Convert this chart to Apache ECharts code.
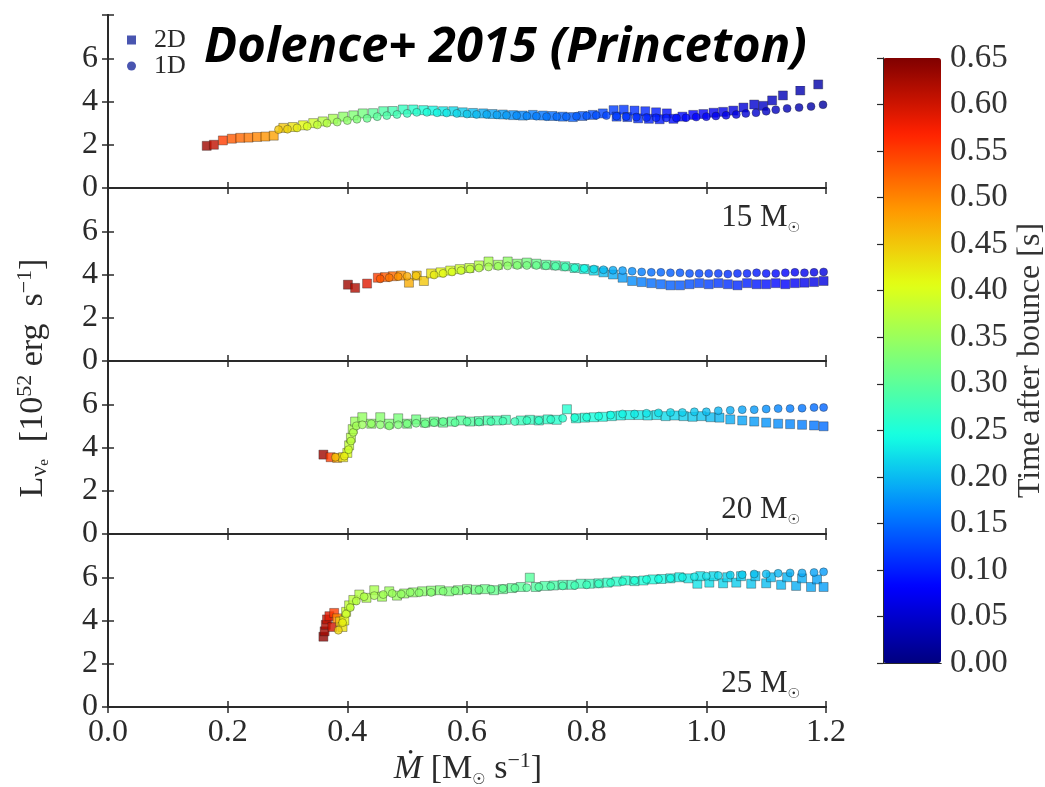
<!DOCTYPE html>
<html>
<head>
<meta charset="utf-8">
<script src="https://cdn.jsdelivr.net/npm/echarts@6/dist/echarts.min.js"></script>
<style>
html,body{margin:0;padding:0;background:#fff;}
#chart{width:1045px;height:787px;}
</style>
</head>
<body>
<div id="chart"></div>
<script>
// ---- tick labels ----
const xTickLabels = ['0.0','0.2','0.4','0.6','0.8','1.0','1.2'];
const yTickLabels = ['0','2','4','6',''];
const cbTickLabels = ['0.00','0.05','0.10','0.15','0.20','0.25','0.30','0.35','0.40','0.45','0.50','0.55','0.60','0.65'];
const panelMasses = ['', '15', '20', '25'];

// ---- data: [Mdot (Msun/s), L_nue (1e52 erg/s), time after bounce (s)] ----
const panel1_2D = [[0.165,1.95,0.63],[0.177,2.00,0.61],[0.192,2.20,0.55],[0.207,2.28,0.53],[0.221,2.32,0.52],[0.235,2.33,0.51],[0.249,2.36,0.50],[0.263,2.38,0.49],[0.277,2.42,0.48],[0.293,2.78,0.45],[0.309,2.82,0.43],[0.326,2.90,0.41],[0.343,3.00,0.39],[0.359,3.08,0.37],[0.376,3.20,0.36],[0.393,3.30,0.34],[0.410,3.36,0.33],[0.426,3.45,0.32],[0.443,3.46,0.30],[0.460,3.55,0.29],[0.476,3.56,0.28],[0.493,3.63,0.27],[0.510,3.63,0.26],[0.527,3.60,0.25],[0.543,3.58,0.24],[0.560,3.55,0.23],[0.577,3.55,0.22],[0.593,3.50,0.21],[0.610,3.47,0.20],[0.627,3.45,0.19],[0.643,3.42,0.185],[0.660,3.40,0.18],[0.677,3.37,0.17],[0.693,3.35,0.165],[0.710,3.38,0.16],[0.727,3.35,0.155],[0.743,3.33,0.15],[0.760,3.30,0.145],[0.777,3.28,0.14],[0.793,3.33,0.135],[0.810,3.38,0.13],[0.827,3.45,0.125],[0.845,3.60,0.12],[0.850,3.30,0.118],[0.862,3.62,0.115],[0.868,3.28,0.112],[0.880,3.58,0.11],[0.886,3.22,0.108],[0.898,3.55,0.105],[0.904,3.20,0.10],[0.916,3.50,0.098],[0.922,3.18,0.095],[0.934,3.45,0.09],[0.945,3.20,0.088],[0.960,3.30,0.085],[0.978,3.38,0.08],[0.995,3.42,0.075],[1.012,3.48,0.07],[1.028,3.52,0.065],[1.045,3.58,0.06],[1.062,3.72,0.055],[1.080,3.86,0.05],[1.095,3.80,0.045],[1.110,4.05,0.04],[1.128,4.28,0.035],[1.157,4.51,0.03],[1.187,4.79,0.025]];
const panel1_1D = [[0.285,2.70,0.45],[0.300,2.72,0.44],[0.316,2.78,0.42],[0.333,2.85,0.40],[0.350,2.92,0.38],[0.366,3.00,0.37],[0.383,3.05,0.35],[0.400,3.12,0.34],[0.416,3.18,0.33],[0.433,3.22,0.31],[0.450,3.30,0.30],[0.466,3.35,0.29],[0.483,3.40,0.28],[0.500,3.45,0.27],[0.516,3.50,0.26],[0.533,3.50,0.25],[0.550,3.48,0.24],[0.566,3.47,0.23],[0.583,3.45,0.22],[0.600,3.42,0.21],[0.616,3.40,0.20],[0.633,3.40,0.19],[0.650,3.38,0.185],[0.666,3.36,0.18],[0.683,3.35,0.17],[0.700,3.33,0.165],[0.716,3.32,0.16],[0.733,3.30,0.155],[0.750,3.30,0.15],[0.766,3.30,0.145],[0.783,3.32,0.14],[0.800,3.34,0.135],[0.816,3.36,0.13],[0.833,3.35,0.125],[0.850,3.32,0.12],[0.866,3.30,0.115],[0.883,3.28,0.11],[0.900,3.26,0.105],[0.916,3.25,0.10],[0.933,3.24,0.095],[0.950,3.24,0.09],[0.966,3.25,0.085],[0.983,3.28,0.08],[1.000,3.30,0.075],[1.016,3.33,0.07],[1.033,3.36,0.065],[1.050,3.40,0.06],[1.066,3.45,0.055],[1.083,3.48,0.05],[1.100,3.55,0.045],[1.116,3.62,0.04],[1.135,3.68,0.035],[1.155,3.72,0.03],[1.175,3.77,0.025],[1.195,3.85,0.02]];

const panel2_2D = [[0.401,3.53,0.63],[0.413,3.38,0.62],[0.433,3.58,0.59],[0.451,3.85,0.55],[0.463,3.88,0.53],[0.476,3.92,0.52],[0.490,3.95,0.49],[0.503,3.62,0.47],[0.516,3.95,0.46],[0.528,3.70,0.45],[0.540,4.05,0.43],[0.556,4.10,0.41],[0.572,4.18,0.40],[0.588,4.25,0.39],[0.604,4.30,0.38],[0.620,4.42,0.37],[0.636,4.60,0.36],[0.652,4.45,0.35],[0.668,4.60,0.34],[0.684,4.50,0.33],[0.700,4.55,0.32],[0.716,4.50,0.31],[0.732,4.45,0.30],[0.748,4.42,0.29],[0.764,4.38,0.28],[0.780,4.30,0.26],[0.796,4.25,0.24],[0.812,4.18,0.22],[0.828,4.10,0.20],[0.844,4.00,0.19],[0.860,3.85,0.18],[0.876,3.70,0.17],[0.892,3.65,0.16],[0.908,3.60,0.15],[0.924,3.55,0.145],[0.940,3.50,0.14],[0.956,3.50,0.135],[0.972,3.55,0.13],[0.988,3.60,0.125],[1.004,3.55,0.12],[1.020,3.60,0.115],[1.036,3.55,0.11],[1.052,3.50,0.105],[1.068,3.60,0.10],[1.084,3.55,0.095],[1.100,3.55,0.09],[1.116,3.60,0.085],[1.132,3.55,0.08],[1.148,3.60,0.075],[1.164,3.62,0.07],[1.180,3.65,0.065],[1.196,3.70,0.06]];
const panel2_1D = [[0.455,3.80,0.53],[0.470,3.85,0.51],[0.485,3.90,0.49],[0.500,3.92,0.47],[0.515,3.95,0.45],[0.545,3.98,0.42],[0.560,4.05,0.41],[0.575,4.12,0.40],[0.590,4.18,0.39],[0.605,4.25,0.38],[0.620,4.30,0.37],[0.636,4.35,0.36],[0.652,4.38,0.35],[0.668,4.40,0.34],[0.684,4.42,0.33],[0.700,4.42,0.32],[0.716,4.42,0.31],[0.732,4.40,0.30],[0.748,4.38,0.29],[0.764,4.35,0.28],[0.780,4.30,0.26],[0.796,4.28,0.24],[0.812,4.25,0.22],[0.828,4.22,0.20],[0.844,4.20,0.19],[0.860,4.18,0.18],[0.876,4.15,0.17],[0.892,4.12,0.16],[0.908,4.10,0.15],[0.924,4.10,0.145],[0.940,4.08,0.14],[0.956,4.08,0.135],[0.972,4.05,0.13],[0.988,4.05,0.125],[1.004,4.05,0.12],[1.020,4.05,0.115],[1.036,4.02,0.11],[1.052,4.05,0.105],[1.068,4.05,0.10],[1.084,4.08,0.095],[1.100,4.05,0.09],[1.116,4.05,0.085],[1.132,4.08,0.08],[1.148,4.10,0.075],[1.164,4.08,0.07],[1.180,4.10,0.065],[1.196,4.12,0.06]];

const panel3_2D = [[0.360,3.67,0.63],[0.372,3.55,0.55],[0.383,3.52,0.48],[0.393,3.55,0.43],[0.400,3.75,0.40],[0.403,4.10,0.38],[0.406,4.45,0.37],[0.409,4.85,0.36],[0.413,5.20,0.35],[0.425,5.40,0.345],[0.440,5.10,0.34],[0.455,5.40,0.335],[0.470,5.10,0.33],[0.485,5.35,0.325],[0.500,5.10,0.32],[0.515,5.30,0.317],[0.530,5.15,0.313],[0.545,5.20,0.31],[0.560,5.15,0.306],[0.575,5.20,0.302],[0.590,5.25,0.298],[0.605,5.20,0.294],[0.620,5.22,0.29],[0.635,5.25,0.287],[0.650,5.25,0.283],[0.665,5.28,0.28],[0.690,5.25,0.274],[0.705,5.28,0.27],[0.720,5.25,0.267],[0.735,5.30,0.264],[0.750,5.28,0.26],[0.767,5.77,0.257],[0.782,5.35,0.254],[0.797,5.38,0.25],[0.812,5.40,0.247],[0.827,5.42,0.244],[0.842,5.45,0.24],[0.857,5.48,0.237],[0.872,5.50,0.234],[0.887,5.50,0.23],[0.902,5.48,0.227],[0.917,5.50,0.224],[0.932,5.45,0.22],[0.947,5.48,0.217],[0.962,5.45,0.214],[0.977,5.42,0.21],[0.992,5.45,0.206],[1.007,5.40,0.20],[1.022,5.38,0.196],[1.040,5.30,0.19],[1.060,5.25,0.185],[1.080,5.20,0.18],[1.100,5.15,0.175],[1.120,5.10,0.17],[1.140,5.08,0.165],[1.160,5.05,0.16],[1.180,5.02,0.155],[1.196,4.98,0.15]];
const panel3_1D = [[0.380,3.55,0.46],[0.395,3.60,0.42],[0.402,3.90,0.39],[0.406,4.30,0.375],[0.410,4.70,0.365],[0.415,5.00,0.355],[0.425,5.05,0.35],[0.440,5.10,0.343],[0.455,5.05,0.337],[0.470,5.00,0.332],[0.485,5.05,0.327],[0.500,5.10,0.322],[0.515,5.12,0.318],[0.530,5.10,0.314],[0.545,5.15,0.31],[0.560,5.20,0.306],[0.580,5.15,0.30],[0.600,5.20,0.295],[0.620,5.18,0.29],[0.640,5.20,0.285],[0.660,5.22,0.28],[0.680,5.20,0.275],[0.700,5.25,0.27],[0.720,5.25,0.266],[0.740,5.30,0.262],[0.760,5.35,0.258],[0.780,5.38,0.254],[0.800,5.40,0.25],[0.820,5.45,0.246],[0.840,5.50,0.242],[0.860,5.55,0.237],[0.880,5.55,0.232],[0.900,5.58,0.228],[0.920,5.60,0.224],[0.940,5.62,0.219],[0.960,5.62,0.214],[0.980,5.65,0.208],[1.000,5.65,0.202],[1.020,5.70,0.196],[1.040,5.72,0.19],[1.060,5.75,0.184],[1.080,5.75,0.178],[1.100,5.78,0.172],[1.120,5.80,0.166],[1.140,5.80,0.16],[1.160,5.82,0.155],[1.180,5.85,0.15],[1.196,5.85,0.145]];

const panel4_2D = [[0.360,3.25,0.64],[0.362,3.50,0.63],[0.364,3.80,0.62],[0.366,4.05,0.61],[0.370,4.20,0.59],[0.375,3.70,0.60],[0.378,4.35,0.55],[0.383,4.10,0.50],[0.388,3.95,0.45],[0.392,3.70,0.43],[0.395,4.00,0.41],[0.398,4.40,0.39],[0.403,4.70,0.38],[0.410,4.95,0.375],[0.420,5.20,0.37],[0.432,5.05,0.365],[0.445,5.40,0.36],[0.458,5.10,0.355],[0.470,5.35,0.35],[0.483,5.15,0.347],[0.495,5.25,0.344],[0.510,5.30,0.34],[0.525,5.35,0.337],[0.540,5.38,0.334],[0.555,5.40,0.33],[0.570,5.35,0.327],[0.585,5.40,0.324],[0.600,5.45,0.32],[0.615,5.42,0.317],[0.630,5.45,0.314],[0.645,5.40,0.31],[0.660,5.45,0.307],[0.675,5.50,0.304],[0.690,5.55,0.30],[0.705,5.98,0.297],[0.715,5.55,0.294],[0.730,5.60,0.29],[0.745,5.62,0.287],[0.760,5.65,0.284],[0.775,5.65,0.28],[0.790,5.70,0.277],[0.805,5.70,0.274],[0.820,5.72,0.27],[0.835,5.75,0.266],[0.850,5.80,0.262],[0.865,5.85,0.258],[0.880,5.82,0.254],[0.895,5.85,0.25],[0.910,5.90,0.246],[0.925,5.92,0.242],[0.940,5.95,0.238],[0.955,6.00,0.234],[0.970,5.95,0.23],[0.985,5.70,0.227],[0.990,6.05,0.225],[1.005,5.75,0.222],[1.012,6.05,0.22],[1.028,5.72,0.217],[1.035,6.00,0.215],[1.050,5.75,0.212],[1.058,6.05,0.21],[1.075,5.70,0.207],[1.082,6.05,0.205],[1.100,5.72,0.202],[1.108,6.00,0.20],[1.125,5.65,0.197],[1.135,6.00,0.195],[1.150,5.60,0.192],[1.160,5.95,0.19],[1.175,5.55,0.187],[1.185,5.90,0.185],[1.196,5.55,0.182]];
const panel4_1D = [[0.385,3.55,0.44],[0.392,3.90,0.42],[0.398,4.30,0.39],[0.405,4.60,0.38],[0.415,4.90,0.372],[0.428,5.10,0.366],[0.445,5.15,0.36],[0.460,5.20,0.355],[0.475,5.25,0.35],[0.490,5.22,0.345],[0.505,5.30,0.341],[0.520,5.28,0.337],[0.540,5.30,0.333],[0.560,5.35,0.329],[0.580,5.38,0.325],[0.600,5.40,0.32],[0.620,5.42,0.316],[0.640,5.45,0.311],[0.660,5.48,0.307],[0.680,5.50,0.302],[0.700,5.52,0.297],[0.720,5.55,0.293],[0.740,5.58,0.288],[0.760,5.60,0.284],[0.780,5.62,0.279],[0.800,5.65,0.274],[0.820,5.70,0.27],[0.840,5.75,0.265],[0.860,5.80,0.26],[0.880,5.85,0.254],[0.900,5.90,0.249],[0.920,5.92,0.244],[0.940,5.95,0.239],[0.960,6.00,0.234],[0.980,6.02,0.229],[1.000,6.05,0.224],[1.020,6.08,0.219],[1.040,6.10,0.214],[1.060,6.12,0.21],[1.080,6.15,0.205],[1.100,6.15,0.20],[1.120,6.18,0.196],[1.140,6.20,0.192],[1.160,6.20,0.188],[1.180,6.22,0.184],[1.196,6.25,0.18]];

const panels2D = [panel1_2D, panel2_2D, panel3_2D, panel4_2D];
const panels1D = [panel1_1D, panel2_1D, panel3_1D, panel4_1D];

// jet colormap samples
const jet = ['#000080','#0000ff','#0080ff','#15ffe2','#7bff7b','#e2ff15','#ff9700','#ff2100','#800000'];

const SERIF = '"Liberation Serif","DejaVu Serif",serif';
const AX = '#2a2a2a';
const GL = 108, GW = 718, GT = 15, GH = 173;

const grids = [], xAxes = [], yAxes = [], series = [];
for (let i = 0; i < 4; i++) {
  grids.push({left: GL, width: GW, top: GT + GH * i, height: GH, outerBoundsMode: 'none'});
  const axBase = {
    gridIndex: i, type: 'value', splitLine: {show: false},
    axisLine: {show: true, lineStyle: {color: AX, width: 2}},
    axisTick: {show: true, inside: true, length: 6, lineStyle: {color: AX, width: 1.5}}
  };
  xAxes.push(Object.assign({}, axBase, {
    position: 'bottom', min: 0, max: 1.2, interval: 0.2,
    axisLabel: {show: i === 3, fontFamily: SERIF, fontSize: 32, color: '#2a2a2a', margin: 10,
      showMinLabel: true, showMaxLabel: true,
      formatter: v => xTickLabels[Math.round(v / 0.2)]}
  }));
  xAxes.push(Object.assign({}, axBase, {
    position: 'top', min: 0, max: 1.2, interval: 0.2, axisLabel: {show: false}
  }));
  yAxes.push(Object.assign({}, axBase, {
    position: 'left', min: 0, max: 8, interval: 2,
    axisLabel: {show: true, fontFamily: SERIF, fontSize: 32, color: '#2a2a2a', margin: 10,
      showMinLabel: true, showMaxLabel: true,
      formatter: v => yTickLabels[Math.round(v / 2)]}
  }));
  yAxes.push(Object.assign({}, axBase, {
    position: 'right', min: 0, max: 8, interval: 2, axisLabel: {show: false}
  }));
  series.push({
    name: '2D', type: 'scatter', xAxisIndex: 2 * i, yAxisIndex: 2 * i,
    symbol: 'rect', symbolSize: 9, data: panels2D[i],
    itemStyle: {borderColor: 'rgba(30,30,30,0.55)', borderWidth: 0.8},
    emphasis: {disabled: true}
  });
  series.push({
    name: '1D', type: 'scatter', xAxisIndex: 2 * i, yAxisIndex: 2 * i,
    symbol: 'circle', symbolSize: 8, data: panels1D[i],
    itemStyle: {borderColor: 'rgba(30,30,30,0.55)', borderWidth: 0.8},
    emphasis: {disabled: true}
  });
}

// colorbar axis grid
const CB_L = 883, CB_T = 58, CB_W = 58, CB_H = 605;
grids.push({left: CB_L, top: CB_T, width: CB_W, height: CB_H, show: false, outerBoundsMode: 'none'});
xAxes.push({gridIndex: 4, type: 'value', min: 0, max: 1, position: 'bottom', z: 10,
  axisLine: {show: true, lineStyle: {color: AX, width: 1}}, axisTick: {show: false}, axisLabel: {show: false}, splitLine: {show: false}});
xAxes.push({gridIndex: 4, type: 'value', min: 0, max: 1, position: 'top', z: 10,
  axisLine: {show: true, lineStyle: {color: AX, width: 1}}, axisTick: {show: false}, axisLabel: {show: false}, splitLine: {show: false}});
yAxes.push({gridIndex: 4, type: 'value', position: 'left', min: 0, max: 0.65, interval: 0.05, z: 10,
  splitLine: {show: false}, axisLine: {show: true, lineStyle: {color: AX, width: 1}},
  axisTick: {show: false}, axisLabel: {show: false}});
yAxes.push({gridIndex: 4, type: 'value', position: 'right', min: 0, max: 0.65, interval: 0.05, z: 10,
  splitLine: {show: false}, axisLine: {show: true, lineStyle: {color: AX, width: 1}},
  axisTick: {show: true, inside: true, length: 6, lineStyle: {color: AX, width: 1.2}},
  axisLabel: {fontFamily: SERIF, fontSize: 33, color: '#333', margin: 9,
    showMinLabel: true, showMaxLabel: true,
    formatter: v => cbTickLabels[Math.round(v / 0.05)]},
  name: 'Time after bounce [s]', nameLocation: 'middle', nameRotate: 90, nameGap: 74,
  nameTextStyle: {fontFamily: SERIF, fontSize: 32, color: '#333'}
});

const graphics = [];
// title box and text
graphics.push({type: 'rect', z: 100, shape: {x: 197, y: 24, width: 608, height: 62}, style: {fill: '#fff'}});
graphics.push({type: 'text', z: 101, x: 204, y: 48, style: {
  text: 'Dolence+ 2015 (Princeton)', fontFamily: '"Open Sans","Noto Sans",sans-serif',
  fontSize: 49, fontWeight: 'bold', fontStyle: 'italic', fill: '#000',
  textAlign: 'left', textVerticalAlign: 'middle'}});
// panel mass labels
const massPos = [null, {x: 800, y: 218}, {x: 800, y: 510}, {x: 800, y: 684}];
for (let i = 1; i < 4; i++) {
  graphics.push({type: 'text', z: 101, x: massPos[i].x, y: massPos[i].y, style: {
    text: panelMasses[i] + ' M{s|☉}', fontFamily: SERIF, fontSize: 31, fill: '#2a2a2a',
    textAlign: 'right', textVerticalAlign: 'middle', lineHeight: 34,
    rich: {s: {fontFamily: '"DejaVu Sans",sans-serif', fontSize: 14, fill: '#2a2a2a', verticalAlign: 'bottom', lineHeight: 12}}
  }});
}
// y axis label
graphics.push({type: 'text', z: 101, x: 33, y: 378, rotation: Math.PI / 2, style: {
  text: 'L{sub|ν}{ss|e}  [10{sup|52} erg  s{sup|−1}]', fontFamily: SERIF, fontSize: 34, fill: '#2a2a2a',
  textAlign: 'center', textVerticalAlign: 'middle', lineHeight: 38,
  rich: {
    sub: {fontFamily: SERIF, fontSize: 24, fill: '#2a2a2a', verticalAlign: 'bottom', lineHeight: 26},
    ss: {fontFamily: SERIF, fontSize: 15, fill: '#2a2a2a', verticalAlign: 'bottom', lineHeight: 12},
    sup: {fontFamily: SERIF, fontSize: 22, fill: '#2a2a2a', verticalAlign: 'top', lineHeight: 18}
  }}});
// x axis label
graphics.push({type: 'text', z: 101, x: 468, y: 769, style: {
  text: '{it|Ṁ} [M{sub|☉} s{sup|−1}]', fontFamily: SERIF, fontSize: 34, fill: '#2a2a2a',
  textAlign: 'center', textVerticalAlign: 'middle', lineHeight: 38,
  rich: {
    it: {fontFamily: SERIF, fontSize: 34, fontStyle: 'italic', fill: '#2a2a2a', lineHeight: 38},
    sub: {fontFamily: '"DejaVu Sans",sans-serif', fontSize: 15, fill: '#2a2a2a', verticalAlign: 'bottom', lineHeight: 12},
    sup: {fontFamily: SERIF, fontSize: 22, fill: '#2a2a2a', verticalAlign: 'top', lineHeight: 18}
  }}});

const option = {
  backgroundColor: '#fff',
  animation: false,
  grid: grids,
  xAxis: xAxes,
  yAxis: yAxes,
  legend: {
    orient: 'vertical', left: 122, top: 22, itemGap: 0, itemWidth: 9, itemHeight: 9,
    selectedMode: false, z: 102,
    textStyle: {fontFamily: SERIF, fontSize: 26, color: '#2a2a2a'},
    formatter: name => '  ' + name,
    data: [
      {name: '2D', icon: 'rect', itemStyle: {color: '#1c2a9c', borderWidth: 0}},
      {name: '1D', icon: 'circle', itemStyle: {color: '#1c2a9c', borderWidth: 0}}
    ]
  },
  visualMap: {
    type: 'continuous', min: 0, max: 0.65, dimension: 2, seriesIndex: [0,1,2,3,4,5,6,7],
    inRange: {color: jet}, calculable: false, hoverLink: false,
    left: CB_L, top: CB_T, itemWidth: CB_W, itemHeight: CB_H, padding: 0, text: null,
    orient: 'vertical'
  },
  graphic: graphics,
  series: series
};

const chart = echarts.init(document.getElementById('chart'), null, {renderer: 'canvas'});
chart.setOption(option);
</script>
</body>
</html>
